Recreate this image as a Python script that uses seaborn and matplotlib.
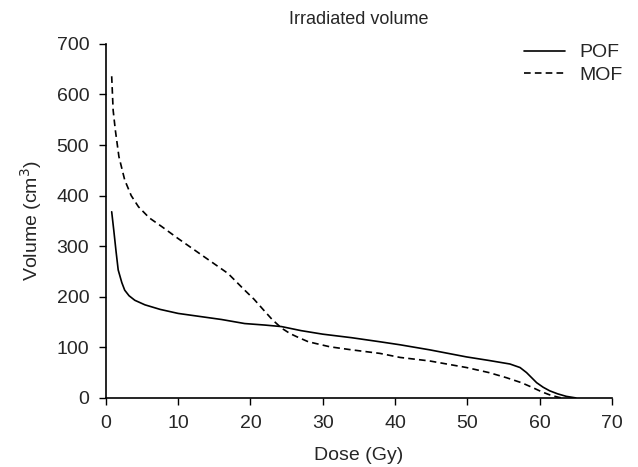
import matplotlib
matplotlib.use("Agg")
import matplotlib.pyplot as plt
import seaborn as sns
import pandas as pd

pof_dose = [0.8, 1.1, 1.4, 1.7, 2.2, 2.6, 3.2, 4.0, 5.4, 7.5, 10, 13, 16, 19.2, 22, 24.3, 27, 30, 34, 37.9, 40.7,
            44.8, 49.9, 53, 55.9, 57.3, 58.2, 59.6, 60.5, 61.4, 62.5, 63.7, 65]
pof_vol = [368, 330, 290, 253, 228, 213, 202, 193, 184, 175, 167, 161, 155, 147, 144, 141, 133, 126, 119, 111, 105,
           95, 81, 74, 67, 60, 50, 30, 21, 14, 8, 3, 0]

mof_dose = [0.8, 1, 1.3, 1.8, 2.6, 3.5, 4.5, 6, 7.7, 10, 12.3, 14.5, 16.9, 19.2, 20.5, 21.8, 23, 24.3, 25.5,
            26.4, 28, 31, 34, 37.9, 40.7, 44.8, 49.9, 53, 55.4, 57.5, 59.1, 60.3, 61.4, 62.4, 63]
mof_vol = [636, 569, 530, 477, 431, 400, 378, 356, 339, 315, 292, 270, 246, 213, 195, 174, 155, 138, 127,
           121, 111, 101, 95, 88, 80, 73, 60, 50, 40, 30, 20, 12, 6, 2, 0]

series_names = ["POF", "MOF"]

df = pd.concat([
    pd.DataFrame({"Dose": pof_dose, "Volume": pof_vol, "Plan": series_names[0]}),
    pd.DataFrame({"Dose": mof_dose, "Volume": mof_vol, "Plan": series_names[1]}),
], ignore_index=True)

sns.set_style("ticks")
plt.rcParams["font.family"] = ["Liberation Sans", "DejaVu Sans"]

fig = plt.figure(figsize=(6.38, 4.67), dpi=100)
ax = fig.add_axes([0.166, 0.148, 0.793, 0.758])

sns.lineplot(data=df, x="Dose", y="Volume", style="Plan", style_order=series_names,
             dashes={"POF": "", "MOF": (4, 2.5)}, color="black", linewidth=1.2,
             sort=False, estimator=None, ax=ax)

ax.set_xlim(0, 70)
ax.set_ylim(0, 700)
ax.set_xticks(range(0, 71, 10))
ax.set_yticks(range(0, 701, 100))
ax.tick_params(labelsize=14, length=5, width=1, color="black", pad=7)
sns.despine(ax=ax)
for s in ["left", "bottom"]:
    ax.spines[s].set_linewidth(1.2)
    ax.spines[s].set_color("black")

ax.set_xlabel("Dose (Gy)", fontsize=14, labelpad=11)
ax.set_ylabel("Volume (cm$^3$)", fontsize=14, labelpad=9)
ax.set_title("Irradiated volume", fontsize=13, pad=14)

leg = ax.legend(loc="upper right", bbox_to_anchor=(1.055, 1.05), frameon=False, fontsize=14,
                handlelength=2.1, handletextpad=0.7, labelspacing=0.25)

fig.savefig("out.png", dpi=100)
